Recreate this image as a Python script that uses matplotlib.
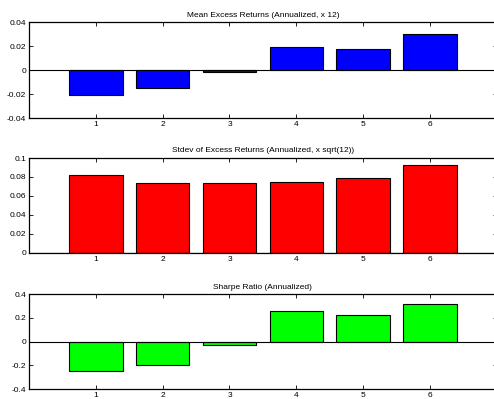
import matplotlib
matplotlib.use('Agg')
import matplotlib.pyplot as plt
import numpy as np

# Data
portfolios = [1, 2, 3, 4, 5, 6]
mean_excess = [-0.0205, -0.0145, -0.0018, 0.0193, 0.0177, 0.0297]
stdev_excess = [0.0825, 0.0735, 0.0742, 0.0748, 0.0790, 0.0930]
sharpe = [-0.248, -0.197, -0.025, 0.258, 0.224, 0.320]

titles = ['Mean Excess Returns (Annualized, x 12)',
          'Stdev of Excess Returns (Annualized, x sqrt(12))',
          'Sharpe Ratio (Annualized)']
series = [mean_excess, stdev_excess, sharpe]
colors = ['#0000ff', '#ff0000', '#00ff00']
ylims = [(-0.04, 0.04), (0, 0.1), (-0.4, 0.4)]
yticks = [[-0.04, -0.02, 0, 0.02, 0.04],
          [0, 0.02, 0.04, 0.06, 0.08, 0.1],
          [-0.4, -0.2, 0, 0.2, 0.4]]
yticklabels = [['-0.04', '-0.02', '0', '0.02', '0.04'],
               ['0', '0.02', '0.04', '0.06', '0.08', '0.1'],
               ['-0.4', '-0.2', '0', '0.2', '0.4']]

plt.rcParams['font.family'] = ['Liberation Sans', 'DejaVu Sans']

fig = plt.figure(figsize=(4.94, 3.99), dpi=100)
positions = [[0.0587, 0.704, 0.947, 0.2406],
             [0.0587, 0.366, 0.947, 0.238],
             [0.0587, 0.025, 0.947, 0.238]]

for pos, vals, col, title, yl, yt, ytl in zip(positions, series, colors, titles,
                                              ylims, yticks, yticklabels):
    ax = fig.add_axes(pos)
    ax.bar(portfolios, vals, width=0.8, color=col, edgecolor='black',
           linewidth=0.8, zorder=2)
    ax.axhline(0, color='black', linewidth=0.8, zorder=3)
    ax.set_xlim(0, 7)
    ax.set_ylim(*yl)
    ax.set_xticks(portfolios)
    ax.set_yticks(yt)
    ax.set_yticklabels(ytl)
    ax.tick_params(direction='in', length=3, width=0.6, labelsize=6,
                   top=True, right=True, pad=2)
    for sp in ax.spines.values():
        sp.set_linewidth(0.9)
    ax.set_title(title, fontsize=6, pad=4)

fig.savefig('out.png', dpi=100, facecolor='white')
